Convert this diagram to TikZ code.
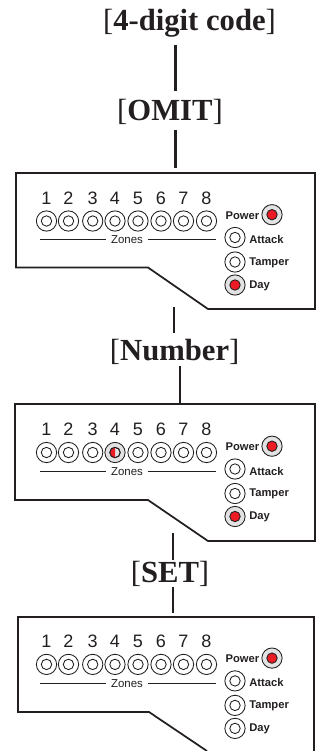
\documentclass[tikz,border=0pt]{standalone}
\usepackage{fontspec}
\setmainfont{Liberation Serif}
\setsansfont{Liberation Sans}
\usetikzlibrary{calc}
\definecolor{ledred}{RGB}{237,28,36}
\definecolor{ringgray}{RGB}{226,226,226}
\definecolor{inkgray}{RGB}{35,31,32}
\tikzset{
  key/.style={inner sep=0pt,outer sep=0pt,anchor=base,text=inkgray,font=\fontsize{23}{23}\selectfont},
  link/.style={line width=1.9pt,inkgray},
  outline/.style={line width=1.3pt,inkgray},
  led/.style={circle,draw=inkgray,line width=0.65pt,minimum size=15.2pt,inner sep=0pt},
  ledhole/.style={circle,draw=inkgray,line width=0.65pt,minimum size=7.8pt,inner sep=0pt},
  digit/.style={inner sep=0pt,text=inkgray,font=\sffamily\fontsize{13.5}{13.5}\selectfont},
  ledtag/.style={inner sep=0pt,text=inkgray,font=\sffamily\bfseries\fontsize{8.4}{8.4}\selectfont},
  zonetag/.style={inner sep=0pt,text=inkgray,font=\sffamily\fontsize{8.6}{8.6}\selectfont},
}
\newcommand{\lamp}[4]{%
  \node[led,#4] (#1) at (#2) {};
  \node[ledhole,#3] (#1h) at (#2) {};
}
% #1 draws lamp 4, #2 and #3 colour the Day lamp
\newcommand{\panelface}[3]{%
  \foreach \x/\n in {46.5/1,68.5/2,92.7/3,115/4,138/5,161/6,183.5/7,206.5/8}{
    \node[digit] (d\n) at (\x,198) {\n};
  }
  \foreach \x/\n in {46.5/1,68.5/2,92.7/3,138/5,161/6,183.5/7,206.5/8}{
    \lamp{z\n}{\x,221}{}{}
  }
  #1
  \node[zonetag] (zones) at (127,240) {Zones};
  \draw[line width=0.65pt,inkgray] (39.5,239.7) -- ([xshift=-3.5pt]zones.west|-0,239.7);
  \draw[line width=0.65pt,inkgray] ([xshift=3.5pt]zones.east|-0,239.7) -- (215.7,239.7);
  \node[ledtag,anchor=east] (power) at (259.5,215.5) {Power};
  \node[ledtag,anchor=west] (attack) at (249,239.5) {Attack};
  \node[ledtag,anchor=west] (tamper) at (249,262.5) {Tamper};
  \node[ledtag,anchor=west] (day) at (249,285.5) {Day};
  \lamp{lpower}{272,214.7}{fill=ledred}{fill=ringgray}
  \lamp{lattack}{235,237.5}{}{}
  \lamp{ltamper}{235,262}{}{}
  \lamp{lday}{235,285}{#2}{#3}
}
\begin{document}
\begin{tikzpicture}[x=0.75pt,y=-0.75pt]
\useasboundingbox (0,0) rectangle (324,751);

\node[key] (code) at (189.5,30) {[\textbf{4-digit code}]};
\node[key] (omit) at (170,120.7) {[\textbf{OMIT}]};
\node[key] (number) at (174.7,360) {[\textbf{Number}]};
\node[key] (setkey) at (170,582.3) {[\textbf{SET}]};

\coordinate (l1) at (175.5,0);
\coordinate (l2) at (174,0);
\coordinate (l3) at (180,0);
\coordinate (l4) at (173,0);

% first panel
\draw[outline] (16,173)--(315,173)--(315,309)--(208,309)--(148,267.5)--(16,267.5)--cycle;
\begin{scope}[name prefix=a]
\panelface{\lamp{z4}{115,221}{}{}}{fill=ledred}{fill=ringgray}
\end{scope}

% second panel
\draw[outline] (15,404)--(315,404)--(315,541)--(208,541)--(148,500)--(15,500)--cycle;
\begin{scope}[yshift=-231.5*0.75pt,name prefix=b]
\panelface{\lamp{z4}{115,221}{}{fill=ringgray}
  \fill[ledred] (z4h.south) arc (-90:-270:3.9pt) -- cycle;
  \node[ledhole] (z4mark) at (z4) {};}{fill=ledred}{fill=ringgray}
\end{scope}

% third panel
\draw[outline] (207,751)--(149,712)--(18,712)--(18,617)--(314,617)--(314,751);
\begin{scope}[yshift=-443.4*0.75pt,name prefix=c]
\panelface{\lamp{z4}{115,221}{}{}}{}{}
\end{scope}

\coordinate (top1) at (l1|-0,168);
\coordinate (foot1) at (l2|-0,307);
\coordinate (top2) at (l3|-0,404);
\coordinate (foot2) at (l4|-0,533);
\coordinate (top3) at (l4|-0,613);

\draw[link,shorten <=6.5pt,shorten >=6.5pt] (code.south-|l1) -- (omit.north-|l1);
\draw[link,shorten <=3.8pt] (omit.south-|l1) -- (top1);
\draw[link,shorten >=4pt] (foot1) -- (number.north-|l2);
\draw[link,shorten <=1.5pt] (number.south-|l3) -- (top2);
\draw[link,shorten >=1pt] (foot2) -- (setkey.north-|l4);
\draw[link,shorten <=0.5pt] (setkey.south-|l4) -- (top3);
\end{tikzpicture}
\end{document}
